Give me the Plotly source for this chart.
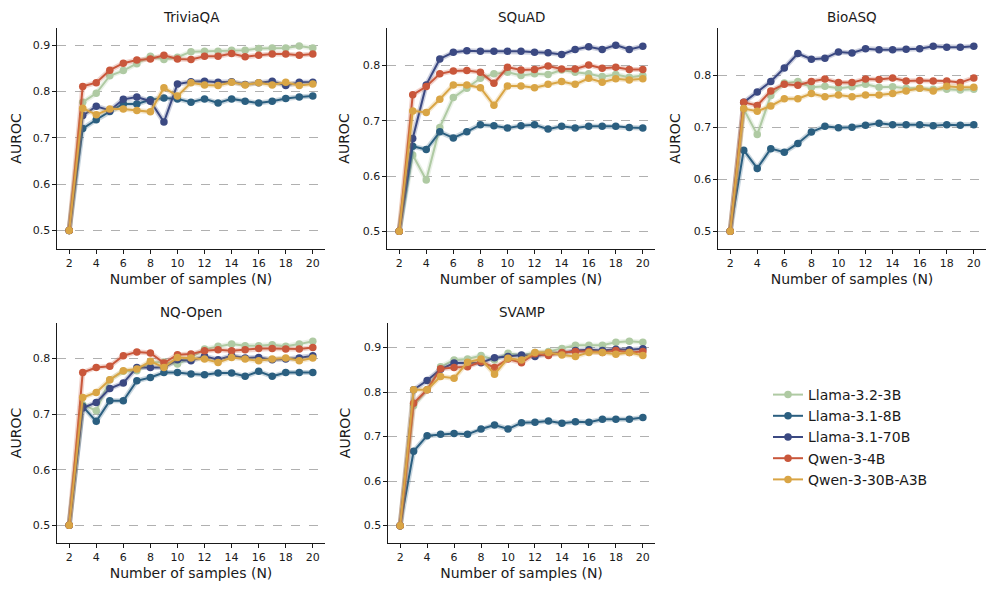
import plotly.graph_objects as go

N = list(range(2, 21))

models = ["Llama-3.2-3B", "Llama-3.1-8B", "Llama-3.1-70B", "Qwen-3-4B", "Qwen-3-30B-A3B"]
colors = ["#afcaa3", "#2b5f80", "#3b4982", "#c9573b", "#d9a545"]
datasets = ["TriviaQA", "SQuAD", "BioASQ", "NQ-Open", "SVAMP"]

# TriviaQA
triviaqa_llama32_3b = [0.5, 0.777, 0.796, 0.834, 0.845, 0.860, 0.876, 0.869, 0.874, 0.886, 0.887, 0.887, 0.889, 0.889, 0.893, 0.894, 0.894, 0.898, 0.894]
triviaqa_llama31_8b = [0.5, 0.720, 0.739, 0.757, 0.773, 0.773, 0.782, 0.786, 0.784, 0.777, 0.784, 0.775, 0.784, 0.779, 0.775, 0.779, 0.785, 0.788, 0.790]
triviaqa_llama31_70b = [0.5, 0.748, 0.768, 0.759, 0.783, 0.788, 0.779, 0.734, 0.816, 0.821, 0.822, 0.820, 0.821, 0.815, 0.819, 0.822, 0.813, 0.820, 0.820]
triviaqa_qwen3_4b = [0.5, 0.811, 0.819, 0.846, 0.861, 0.868, 0.870, 0.878, 0.870, 0.869, 0.876, 0.876, 0.882, 0.875, 0.878, 0.881, 0.881, 0.878, 0.881]
triviaqa_qwen3_30b = [0.5, 0.764, 0.750, 0.762, 0.762, 0.759, 0.756, 0.808, 0.790, 0.819, 0.814, 0.813, 0.820, 0.814, 0.819, 0.814, 0.820, 0.813, 0.816]

# SQuAD
squad_llama32_3b = [0.5, 0.638, 0.593, 0.688, 0.742, 0.759, 0.777, 0.785, 0.788, 0.782, 0.785, 0.784, 0.792, 0.788, 0.785, 0.780, 0.784, 0.779, 0.782]
squad_llama31_8b = [0.5, 0.654, 0.648, 0.680, 0.669, 0.680, 0.693, 0.691, 0.687, 0.691, 0.693, 0.685, 0.690, 0.687, 0.690, 0.690, 0.690, 0.688, 0.687]
squad_llama31_70b = [0.5, 0.668, 0.765, 0.812, 0.824, 0.827, 0.826, 0.826, 0.826, 0.826, 0.824, 0.823, 0.820, 0.829, 0.834, 0.829, 0.837, 0.829, 0.835]
squad_qwen3_4b = [0.5, 0.747, 0.762, 0.785, 0.790, 0.791, 0.788, 0.768, 0.797, 0.792, 0.793, 0.799, 0.794, 0.794, 0.801, 0.795, 0.797, 0.793, 0.793]
squad_qwen3_30b = [0.5, 0.718, 0.715, 0.739, 0.765, 0.765, 0.760, 0.728, 0.763, 0.763, 0.760, 0.766, 0.771, 0.766, 0.777, 0.770, 0.776, 0.774, 0.776]

# BioASQ
bioasq_llama32_3b = [0.5, 0.735, 0.686, 0.761, 0.785, 0.788, 0.777, 0.779, 0.775, 0.778, 0.783, 0.777, 0.778, 0.775, 0.775, 0.773, 0.773, 0.772, 0.773]
bioasq_llama31_8b = [0.5, 0.656, 0.621, 0.659, 0.652, 0.669, 0.691, 0.702, 0.699, 0.700, 0.704, 0.708, 0.705, 0.705, 0.705, 0.703, 0.705, 0.704, 0.705]
bioasq_llama31_70b = [0.5, 0.748, 0.768, 0.788, 0.814, 0.842, 0.831, 0.833, 0.845, 0.843, 0.851, 0.849, 0.849, 0.850, 0.851, 0.856, 0.854, 0.854, 0.856]
bioasq_qwen3_4b = [0.5, 0.748, 0.742, 0.770, 0.783, 0.781, 0.788, 0.793, 0.786, 0.786, 0.793, 0.792, 0.795, 0.789, 0.790, 0.789, 0.789, 0.786, 0.795]
bioasq_qwen3_30b = [0.5, 0.736, 0.731, 0.741, 0.755, 0.755, 0.765, 0.759, 0.762, 0.759, 0.762, 0.762, 0.765, 0.770, 0.775, 0.770, 0.779, 0.777, 0.777]

# NQ-Open
nq_llama32_3b = [0.5, 0.717, 0.706, 0.762, 0.777, 0.778, 0.793, 0.794, 0.790, 0.802, 0.817, 0.822, 0.826, 0.823, 0.823, 0.825, 0.822, 0.826, 0.831]
nq_llama31_8b = [0.5, 0.714, 0.687, 0.724, 0.724, 0.760, 0.766, 0.775, 0.775, 0.772, 0.771, 0.774, 0.774, 0.768, 0.777, 0.768, 0.775, 0.775, 0.775]
nq_llama31_70b = [0.5, 0.711, 0.721, 0.746, 0.756, 0.784, 0.784, 0.784, 0.798, 0.796, 0.804, 0.798, 0.805, 0.801, 0.802, 0.798, 0.799, 0.801, 0.805]
nq_qwen3_4b = [0.5, 0.775, 0.784, 0.786, 0.805, 0.812, 0.810, 0.792, 0.807, 0.808, 0.814, 0.816, 0.814, 0.816, 0.818, 0.818, 0.817, 0.817, 0.820]
nq_qwen3_30b = [0.5, 0.730, 0.739, 0.762, 0.778, 0.781, 0.795, 0.784, 0.802, 0.801, 0.799, 0.793, 0.802, 0.799, 0.796, 0.799, 0.801, 0.796, 0.801]

# SVAMP
svamp_llama32_3b = [0.5, 0.769, 0.805, 0.857, 0.872, 0.874, 0.882, 0.872, 0.887, 0.882, 0.889, 0.891, 0.898, 0.905, 0.905, 0.905, 0.912, 0.914, 0.912]
svamp_llama31_8b = [0.5, 0.667, 0.702, 0.705, 0.707, 0.705, 0.717, 0.726, 0.717, 0.731, 0.732, 0.735, 0.730, 0.733, 0.732, 0.739, 0.739, 0.739, 0.743]
svamp_llama31_70b = [0.5, 0.805, 0.826, 0.851, 0.865, 0.865, 0.866, 0.877, 0.880, 0.883, 0.880, 0.887, 0.887, 0.893, 0.895, 0.893, 0.896, 0.895, 0.897]
svamp_qwen3_4b = [0.5, 0.775, 0.805, 0.852, 0.855, 0.857, 0.868, 0.855, 0.874, 0.866, 0.886, 0.882, 0.889, 0.891, 0.891, 0.889, 0.893, 0.889, 0.891]
svamp_qwen3_30b = [0.5, 0.805, 0.805, 0.835, 0.831, 0.867, 0.874, 0.840, 0.876, 0.872, 0.889, 0.889, 0.883, 0.880, 0.889, 0.889, 0.885, 0.889, 0.882]

panel_series = [
    [triviaqa_llama32_3b, triviaqa_llama31_8b, triviaqa_llama31_70b, triviaqa_qwen3_4b, triviaqa_qwen3_30b],
    [squad_llama32_3b, squad_llama31_8b, squad_llama31_70b, squad_qwen3_4b, squad_qwen3_30b],
    [bioasq_llama32_3b, bioasq_llama31_8b, bioasq_llama31_70b, bioasq_qwen3_4b, bioasq_qwen3_30b],
    [nq_llama32_3b, nq_llama31_8b, nq_llama31_70b, nq_qwen3_4b, nq_qwen3_30b],
    [svamp_llama32_3b, svamp_llama31_8b, svamp_llama31_70b, svamp_qwen3_4b, svamp_qwen3_30b],
]

y_ranges = [[0.46, 0.937], [0.468, 0.868], [0.466, 0.891], [0.468, 0.864], [0.461, 0.955]]
x_ticks = [2, 4, 6, 8, 10, 12, 14, 16, 18, 20]
y_ticks = [0.5, 0.6, 0.7, 0.8, 0.9]

OFF = 8  # page body margin
W, H = 997 - OFF, 594 - OFF
# panel boxes in window pixels: left, right, top, bottom
boxes = [(57, 325, 28, 249), (387, 655, 28, 249), (718, 986, 28, 249),
         (57, 325, 323, 543), (388, 655, 323, 543)]

FONT = "DejaVu Sans"
TXT = "#1a1a1a"
fig = go.Figure()

for p, (series_list, box) in enumerate(zip(panel_series, boxes)):
    idx = "" if p == 0 else str(p + 1)
    xa, ya = "x" + idx, "y" + idx
    for m, (vals, name, col) in enumerate(zip(series_list, models, colors)):
        fig.add_trace(go.Scatter(
            x=N, y=vals, mode="lines", xaxis=xa, yaxis=ya,
            line=dict(color=col, width=5), opacity=0.25,
            showlegend=False, hoverinfo="skip"))
        fig.add_trace(go.Scatter(
            x=N, y=vals, mode="lines+markers", name=name, xaxis=xa, yaxis=ya,
            line=dict(color=col, width=2), marker=dict(color=col, size=7.5),
            showlegend=(p == 0), legendrank=m))
    l, r, t, b = [v - OFF for v in box]
    common_x = dict(domain=[l / W, r / W], anchor=ya, range=[1.1, 20.9],
                    tickvals=x_ticks, ticks="outside", ticklen=3.5, tickwidth=1,
                    tickcolor=TXT, showline=True, linecolor=TXT, linewidth=1.2,
                    showgrid=False, zeroline=False,
                    tickfont=dict(family=FONT, size=11, color=TXT),
                    title=dict(text="Number of samples (N)", standoff=5,
                               font=dict(family=FONT, size=14, color=TXT)))
    common_y = dict(domain=[1 - b / H, 1 - t / H], anchor=xa, range=y_ranges[p],
                    tickvals=y_ticks, ticktext=[f"{v:.1f}" for v in y_ticks],
                    ticks="outside", ticklen=3.5, tickwidth=1,
                    tickcolor=TXT, showline=True, linecolor=TXT, linewidth=1.2,
                    showgrid=True, gridcolor="#b0b0b0", griddash="dash", gridwidth=1,
                    zeroline=False,
                    tickfont=dict(family=FONT, size=11, color=TXT),
                    title=dict(text="AUROC", standoff=9,
                               font=dict(family=FONT, size=14, color=TXT)))
    fig.layout["xaxis" + idx] = common_x
    fig.layout["yaxis" + idx] = common_y
    fig.add_annotation(text=datasets[p], xref="paper", yref="paper",
                       x=(l + r) / 2 / W, y=1 - (t - 11) / H, showarrow=False,
                       xanchor="center", yanchor="middle",
                       font=dict(family=FONT, size=13.5, color=TXT))

fig.update_layout(
    width=W, height=H, margin=dict(l=0, r=0, t=0, b=0),
    plot_bgcolor="white", paper_bgcolor="white",
    legend=dict(x=(768 - OFF) / W, y=1 - (379 - OFF) / H, xanchor="left", yanchor="top",
                font=dict(family=FONT, size=14, color=TXT),
                bgcolor="rgba(0,0,0,0)", itemwidth=30, tracegroupgap=0),
    font=dict(family=FONT),
)

fig.write_html("out.html")
